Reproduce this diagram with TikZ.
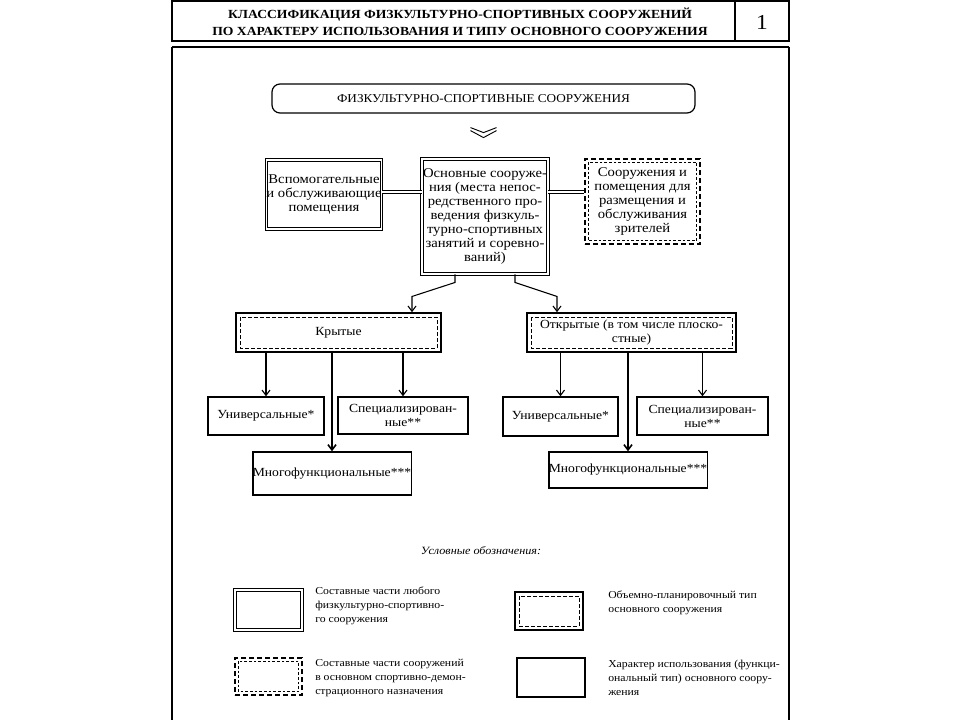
\documentclass[tikz,border=0pt]{standalone}
\usepackage{fontspec}
\setmainfont{Liberation Serif}[FakeStretch=1.1]
\usetikzlibrary{arrows.meta}

\tikzset{
  boxtext/.style={align=center, inner sep=0pt, font=\fontsize{9.3}{10.5}\selectfont},
  dblbox/.style={boxtext, draw, line width=0.7pt, double, double distance=1.4pt},
  typebox/.style={boxtext, draw, line width=1.2pt,
    path picture={\draw[line width=0.5pt, dash pattern=on 3pt off 1.5pt]
      ([shift={(3pt,-3pt)}]path picture bounding box.north west) rectangle
      ([shift={(-3pt,3pt)}]path picture bounding box.south east);}},
  spbox/.style={boxtext, draw, line width=0.8pt, dash pattern=on 4pt off 2pt,
    path picture={\draw[line width=0.5pt, dash pattern=on 2pt off 1.5pt]
      ([shift={(2.5pt,-2.5pt)}]path picture bounding box.north west) rectangle
      ([shift={(-2.5pt,2.5pt)}]path picture bounding box.south east);}},
  usebox/.style={boxtext, draw, line width=1.1pt},
  arr/.style={-{Straight Barb[length=4pt,width=6pt]}, line width=0.8pt},
  dblline/.style={line width=0.7pt, double, double distance=1.6pt},
  lgtext/.style={anchor=west, align=left, inner sep=0pt, font=\fontsize{8}{10.5}\selectfont}
}

\begin{document}
\begin{tikzpicture}[x=0.75pt,y=-0.75pt]
\useasboundingbox (0,0) rectangle (960,720);

% ===== Frame and header =====
\draw[line width=1.5pt] (172,1) rectangle (789,41);
\draw[line width=1.5pt] (735,1) -- (735,41);
\draw[line width=2.2pt] (172,47) -- (789,47);
\draw[line width=1.5pt] (172,47) -- (172,720);
\draw[line width=1.5pt] (789,47) -- (789,720);
\node[align=center, inner sep=0pt, font=\fontsize{9.3}{12.75}\selectfont\bfseries] (title) at (460,22)
  {КЛАССИФИКАЦИЯ ФИЗКУЛЬТУРНО-СПОРТИВНЫХ СООРУЖЕНИЙ\\
   ПО ХАРАКТЕРУ ИСПОЛЬЗОВАНИЯ И ТИПУ ОСНОВНОГО СООРУЖЕНИЯ};
\node[inner sep=0pt, font=\fontsize{16}{16}\selectfont] (num) at (762,22) {1};

% ===== Top box =====
\node[draw, line width=0.9pt, rounded corners=6pt, minimum width=317.25pt, minimum height=21.75pt,
  inner sep=0pt, font=\fontsize{9}{10.5}\selectfont] (top) at (483.5,98.5) {ФИЗКУЛЬТУРНО-СПОРТИВНЫЕ СООРУЖЕНИЯ};
% Double chevron
\draw[line width=0.7pt] ([shift={(-13,14)}]top.south) -- ([shift={(0,19)}]top.south) -- ([shift={(13,14)}]top.south);
\draw[line width=0.7pt] ([shift={(-13,17)}]top.south) -- ([shift={(0,24)}]top.south) -- ([shift={(13,17)}]top.south);

% ===== Second row =====
\node[dblbox, font=\fontsize{10}{10.5}\selectfont, minimum width=84pt, minimum height=51.75pt] (aux) at (324,194.5)
  {Вспомогательные\\и обслуживающие\\помещения};
\node[dblbox, font=\fontsize{10}{10.5}\selectfont, minimum width=94.5pt, minimum height=86.25pt] (main) at (485,216.5)
  {Основные сооруже-\\ния (места непос-\\редственного про-\\ведения физкуль-\\турно-спортивных\\занятий и соревно-\\ваний)};
\node[spbox, font=\fontsize{10}{10.5}\selectfont, minimum width=86.25pt, minimum height=63.75pt] (spec) at (642.5,201.5)
  {Сооружения и\\помещения для\\размещения и\\обслуживания\\зрителей};
\draw[dblline] (aux.east |- 0,192) -- (main.west |- 0,192);
\draw[dblline] (main.east |- 0,192) -- (spec.west |- 0,192);

% ===== Type boxes =====
\node[typebox, minimum width=153.75pt, minimum height=29.25pt] (kr) at (338.5,332.5) {Крытые};
\node[typebox, minimum width=156.75pt, minimum height=29.25pt] (ot) at (631.5,332.5)
  {Открытые (в том числе плоско-\\стные)};
\draw[arr] ([xshift=-22.5pt]main.south) -- ++(0,8) -- ++(-43,14) coordinate (k1) -- (k1 |- kr.north);
\draw[arr] ([xshift=22.5pt]main.south) -- ++(0,8) -- ++(42,14) coordinate (o1) -- (o1 |- ot.north);

% ===== Usage boxes, left =====
\node[usebox, minimum width=87pt, minimum height=28.5pt] (un1) at (266,416) {Универсальные*};
\node[usebox, minimum width=97.5pt, minimum height=27.75pt] (sp1) at (403,415.5) {Специализирован-\\ные**};
\node[usebox, minimum width=115.5pt, minimum height=32.25pt] (mf1) at (332,473.5) {Многофункциональные***};
\draw[arr] (un1.north |- kr.south) -- (un1.north);
\draw[arr] (sp1.north |- kr.south) -- (sp1.north);
\draw[arr, line width=1.2pt] (mf1.north |- kr.south) -- (mf1.north);

% ===== Usage boxes, right =====
\node[usebox, minimum width=86.25pt, minimum height=29.25pt] (un2) at (560.5,416.5) {Универсальные*};
\node[usebox, minimum width=98.25pt, minimum height=28.5pt] (sp2) at (702.5,416) {Специализирован-\\ные**};
\node[usebox, minimum width=112.5pt, minimum height=27pt] (mf2) at (628,470) {Многофункциональные***};
\draw[arr] (un2.north |- ot.south) -- (un2.north);
\draw[arr] (sp2.north |- ot.south) -- (sp2.north);
\draw[arr, line width=1.2pt] (mf2.north |- ot.south) -- (mf2.north);

% ===== Legend =====
\node[inner sep=0pt, font=\fontsize{8.3}{10}\selectfont\itshape] (lgtitle) at (481,551) {Условные обозначения:};
\node[dblbox, minimum width=50.25pt, minimum height=30pt] (lg1) at (268.5,610) {};
\node[lgtext] (lg1t) at (315,606) {Составные части любого\\физкультурно-спортивно-\\го сооружения};
\node[typebox, minimum width=51pt, minimum height=28.5pt] (lg2) at (549,611) {};
\node[lgtext] (lg2t) at (608,603) {Объемно-планировочный тип\\основного сооружения};
\node[spbox, line width=0.9pt, minimum width=50.25pt, minimum height=27.75pt] (lg3) at (268.5,676.5) {};
\node[lgtext] (lg3t) at (315,678) {Составные части сооружений\\в основном спортивно-демон-\\страционного назначения};
\node[usebox, minimum width=51pt, minimum height=29.25pt] (lg4) at (551,677.5) {};
\node[lgtext] (lg4t) at (608,678) {Характер использования (функци-\\ональный тип) основного соору-\\жения};

\end{tikzpicture}
\end{document}
